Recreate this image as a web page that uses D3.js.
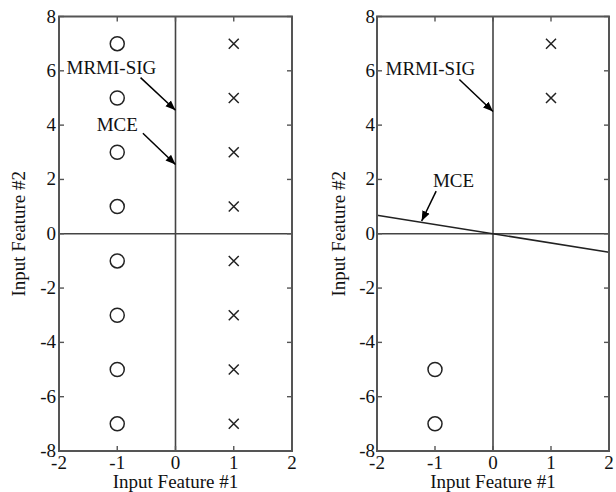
<!DOCTYPE html>
<html><head><meta charset="utf-8">
<script src="https://cdn.jsdelivr.net/npm/d3@7"></script>
<style>body{margin:0;background:#fff}svg{display:block}text{font-family:"Liberation Serif","Times New Roman",serif;fill:#111}</style>
</head><body><svg id="c" width="616" height="492"></svg>
<script>
// ---- data ----
const xTicks = [-2, -1, 0, 1, 2];
const yTicks = [-8, -6, -4, -2, 0, 2, 4, 6, 8];
const xLabel = "Input Feature #1";
const yLabel = "Input Feature #2";
// left panel
const leftCircles = [[-1, 7], [-1, 5], [-1, 3], [-1, 1], [-1, -1], [-1, -3], [-1, -5], [-1, -7]];
const leftCrosses = [[1, 7], [1, 5], [1, 3], [1, 1], [1, -1], [1, -3], [1, -5], [1, -7]];
const leftBoundaries = [[[0, -8], [0, 8]]]; // MRMI-SIG and MCE coincide
const leftAnnotations = [
  {text: "MRMI-SIG", tx: -1.1, ty: 5.9, from: [-0.6, 5.75], to: [0, 4.55]},
  {text: "MCE", tx: -1.0, ty: 3.77, from: [-0.56, 3.7], to: [0, 2.55]}
];
// right panel
const rightCircles = [[-1, -5], [-1, -7]];
const rightCrosses = [[1, 7], [1, 5]];
const rightBoundaries = [[[0, -8], [0, 8]], [[-2, 0.68], [2, -0.68]]];
const rightAnnotations = [
  {text: "MRMI-SIG", tx: -1.08, ty: 5.83, from: [-0.58, 5.68], to: [0, 4.5]},
  {text: "MCE", tx: -0.68, ty: 1.72, from: [-0.98, 1.57], to: [-1.23, 0.47]}
];

const svg = d3.select("#c");
svg.append("defs").append("marker")
  .attr("id", "ah").attr("viewBox", "0 0 10 10").attr("refX", 10).attr("refY", 5)
  .attr("markerWidth", 10).attr("markerHeight", 10).attr("markerUnits", "userSpaceOnUse")
  .attr("orient", "auto")
  .append("path").attr("d", "M0,1 L10,5 L0,9 Z").attr("fill", "#000");

function panel(left, right, circles, crosses, bounds, annots, yLabX, yTickGap) {
  const top = 16.5, bottom = 451;
  const x = d3.scaleLinear().domain([-2, 2]).range([left, right]);
  const y = d3.scaleLinear().domain([-8, 8]).range([bottom, top]);
  const g = svg.append("g");
  const fs = 19;
  // zero line horizontal
  g.append("line").attr("x1", x(-2)).attr("x2", x(2)).attr("y1", y(0)).attr("y2", y(0))
    .attr("stroke", "#444").attr("stroke-width", 1.6);
  // boundaries
  bounds.forEach((b, i) => {
    g.append("line").attr("x1", x(b[0][0])).attr("y1", y(b[0][1])).attr("x2", x(b[1][0])).attr("y2", y(b[1][1]))
      .attr("stroke", i === 0 ? "#444" : "#222").attr("stroke-width", 1.6);
  });
  // ticks (inward, all four sides)
  const tl = 5;
  xTicks.forEach(t => {
    g.append("line").attr("x1", x(t)).attr("x2", x(t)).attr("y1", bottom).attr("y2", bottom - tl).attr("stroke", "#555").attr("stroke-width", 1.4);
    g.append("line").attr("x1", x(t)).attr("x2", x(t)).attr("y1", top).attr("y2", top + tl).attr("stroke", "#555").attr("stroke-width", 1.4);
    g.append("text").attr("x", x(t)).attr("y", bottom + 18).attr("text-anchor", "middle")
      .attr("font-size", fs).text(t < 0 ? "-" + Math.abs(t) : t);
  });
  yTicks.forEach(t => {
    g.append("line").attr("x1", left).attr("x2", left + tl).attr("y1", y(t)).attr("y2", y(t)).attr("stroke", "#555").attr("stroke-width", 1.4);
    g.append("line").attr("x1", right).attr("x2", right - tl).attr("y1", y(t)).attr("y2", y(t)).attr("stroke", "#555").attr("stroke-width", 1.4);
    g.append("text").attr("x", left - yTickGap).attr("y", y(t) + 6).attr("text-anchor", "end")
      .attr("font-size", fs).text(t < 0 ? "-" + Math.abs(t) : t);
  });
  // box
  g.append("rect").attr("x", left).attr("y", top).attr("width", right - left).attr("height", bottom - top)
    .attr("fill", "none").attr("stroke", "#555").attr("stroke-width", 2);
  // markers
  g.selectAll(".o").data(circles).enter().append("circle")
    .attr("cx", d => x(d[0])).attr("cy", d => y(d[1])).attr("r", 7)
    .attr("fill", "none").attr("stroke", "#222").attr("stroke-width", 1.5);
  const s = 5;
  crosses.forEach(d => {
    const cx = x(d[0]), cy = y(d[1]);
    g.append("path").attr("d", `M${cx - s},${cy - s}L${cx + s},${cy + s}M${cx - s},${cy + s}L${cx + s},${cy - s}`)
      .attr("stroke", "#222").attr("stroke-width", 1.5).attr("fill", "none");
  });
  // annotations
  annots.forEach(a => {
    g.append("text").attr("x", x(a.tx)).attr("y", y(a.ty)).attr("text-anchor", "middle")
      .attr("font-size", fs).text(a.text);
    g.append("line").attr("x1", x(a.from[0])).attr("y1", y(a.from[1])).attr("x2", x(a.to[0])).attr("y2", y(a.to[1]))
      .attr("stroke", "#000").attr("stroke-width", 1.5).attr("marker-end", "url(#ah)");
  });
  // axis labels
  g.append("text").attr("x", (left + right) / 2).attr("y", 488).attr("text-anchor", "middle")
    .attr("font-size", fs).text(xLabel);
  g.append("text").attr("transform", `translate(${yLabX},${(top + bottom) / 2}) rotate(-90)`)
    .attr("text-anchor", "middle").attr("font-size", fs).text(yLabel);
}

panel(59, 292, leftCircles, leftCrosses, leftBoundaries, leftAnnotations, 25, 3);
panel(377, 609, rightCircles, rightCrosses, rightBoundaries, rightAnnotations, 345, 2);
</script></body></html>
